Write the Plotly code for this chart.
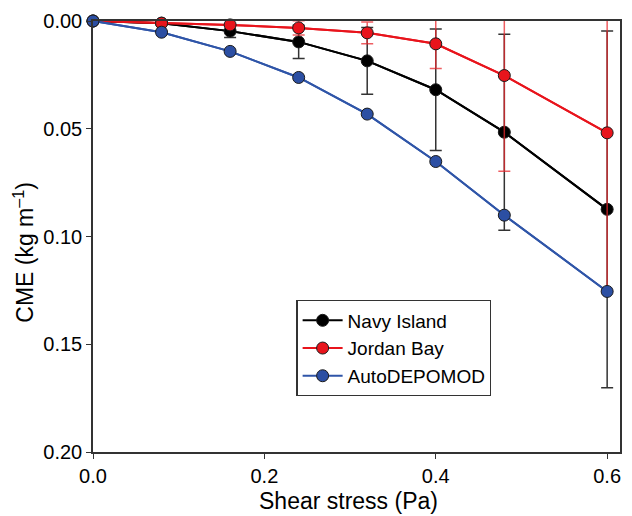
import plotly.graph_objects as go

shear = [0.0, 0.08, 0.16, 0.24, 0.32, 0.40, 0.48, 0.60]

navy = [0.0, 0.001, 0.0047, 0.0097, 0.0185, 0.0319, 0.0516, 0.0874]
navy_err = [0.0, 0.0, 0.003, 0.0077, 0.0155, 0.0282, 0.0455, 0.0828]

jordan = [0.0, 0.001, 0.0018, 0.0032, 0.0055, 0.0106, 0.0253, 0.0519]
jordan_err = [0.0, 0.0, 0.0, 0.0033, 0.005, 0.0114, 0.0444, 0.0736]

auto = [0.0, 0.0052, 0.0141, 0.0262, 0.0432, 0.0652, 0.0901, 0.1255]

FONT = "Liberation Sans, Arial, sans-serif"

fig = go.Figure()

series = [
    ("Navy Island", navy, navy_err, "black", "#000000", "#333333"),
    ("Jordan Bay", jordan, jordan_err, "#e8141c", "#e8141c", "rgba(232,40,46,0.75)"),
    ("AutoDEPOMOD", auto, None, "#2f55a8", "#2c4fa3", None),
]

for name, vals, err, lcol, mcol, ecol in series:
    kw = {}
    if err is not None:
        kw["error_y"] = dict(type="data", array=err, visible=True,
                             color=ecol, thickness=1.5, width=6)
    fig.add_trace(go.Scatter(
        x=shear, y=vals, mode="lines", name=name, showlegend=False,
        line=dict(color=lcol, width=2), cliponaxis=True, hoverinfo="skip", **kw))
    fig.add_trace(go.Scatter(
        x=shear, y=vals, mode="lines+markers", name=name,
        line=dict(color=lcol, width=2),
        marker=dict(size=12, color=mcol, line=dict(color="#1a1a1a", width=1)),
        cliponaxis=False))

axis_common = dict(
    showline=True, linecolor="#333333", linewidth=1.5, mirror=True,
    ticks="outside", ticklen=5, tickwidth=1.2, tickcolor="#333333",
    showgrid=False, zeroline=False,
    tickfont=dict(family=FONT, size=20, color="black"),
)

fig.update_layout(
    width=632, height=516,
    margin=dict(l=93, r=10, t=20, b=64),
    plot_bgcolor="white", paper_bgcolor="white",
    font=dict(family=FONT, color="black"),
    xaxis=dict(range=[0, 0.615], tickvals=[0, 0.2, 0.4, 0.6], tickformat=".1f",
               ticklabelstandoff=0, **axis_common),
    yaxis=dict(range=[0.2, 0.0], tickvals=[0, 0.05, 0.1, 0.15, 0.2], tickformat=".2f",
               **axis_common),
    legend=dict(x=0.386, y=0.352, xanchor="left", yanchor="top",
                bgcolor="white", bordercolor="#333333", borderwidth=1.2,
                font=dict(family=FONT, size=19, color="black"),
                tracegroupgap=0, itemwidth=40),
    annotations=[
        dict(text="Shear stress (Pa)", xref="paper", yref="paper",
             x=(349 - 93) / 529, y=-(501 - 452) / 432, xanchor="center", yanchor="middle",
             showarrow=False, font=dict(family=FONT, size=23, color="black")),
        dict(text="CME (kg m<sup>–1</sup>)", xref="paper", yref="paper",
             x=-(93 - 24) / 529, y=(452 - 252) / 432, xanchor="center", yanchor="middle",
             textangle=-90, showarrow=False, font=dict(family=FONT, size=23, color="black")),
    ],
)

fig.write_html("out.html")
